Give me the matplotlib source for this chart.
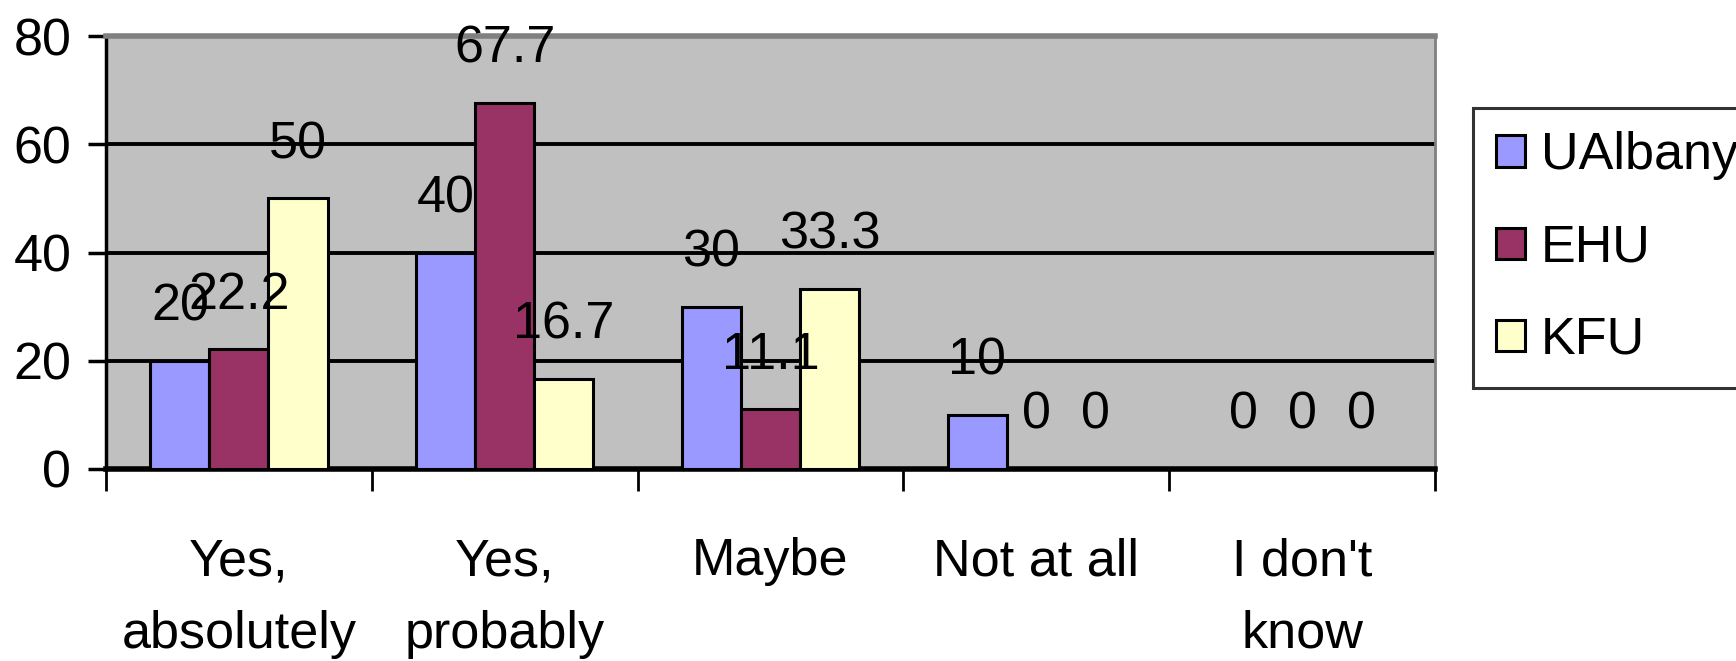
import matplotlib
matplotlib.use("Agg")
import matplotlib.pyplot as plt
import numpy as np

categories = ["Yes,\nabsolutely", "Yes,\nprobably", "Maybe", "Not at all", "I don't\nknow"]
series_names = ["UAlbany", "EHU", "KFU"]
ualbany = [20, 40, 30, 10, 0]
ehu = [22.2, 67.7, 11.1, 0, 0]
kfu = [50, 16.7, 33.3, 0, 0]
label_texts = [["20", "40", "30", "10", "0"],
               ["22.2", "67.7", "11.1", "0", "0"],
               ["50", "16.7", "33.3", "0", "0"]]
yticks = [0, 20, 40, 60, 80]
colors = ["#9999FF", "#993366", "#FFFFCC"]

plt.rcParams['font.family'] = ['Liberation Sans', 'DejaVu Sans']
FS = 37.5

fig = plt.figure(figsize=(17.36, 6.61), dpi=100)
ax = fig.add_axes([106/1736, 1-469/661, (1435-106)/1736, (469-36)/661])
ax.set_facecolor("#C0C0C0")

x = np.arange(len(categories))
w = 1/4.5
data = [ualbany, ehu, kfu]
for i, (vals, name, col) in enumerate(zip(data, series_names, colors)):
    pos = x + (i-1)*w
    ax.bar(pos, vals, width=w, color=col, edgecolor="black", linewidth=2.2,
           label=name, zorder=3)
    for p, v, t in zip(pos, vals, label_texts[i]):
        if t:
            ax.annotate(t, (p, v), xytext=(0, 29), textcoords="offset points",
                        ha="center", va="baseline", fontsize=FS, zorder=5)

ax.set_xlim(-0.5, len(categories)-0.5)
ax.set_ylim(0, 80)
ax.set_yticks(yticks)
ax.set_yticklabels([str(t) for t in yticks], fontsize=FS)
ax.yaxis.grid(True, color="black", linewidth=2.8, zorder=1)
ax.set_axisbelow(True)

ax.set_xticks(np.arange(len(categories)+1)-0.5)
ax.set_xticklabels([])
ax.set_xticks(x, minor=True)
ax.set_xticklabels(categories, minor=True, fontsize=FS, linespacing=1.62, va="top")
ax.tick_params(axis="x", which="major", length=16, width=2, direction="out")
ax.tick_params(axis="x", which="minor", length=0, pad=49)
ax.tick_params(axis="y", length=13, width=2.5, pad=12)

ax.spines["left"].set_linewidth(2.5)
ax.spines["bottom"].set_linewidth(4)
ax.spines["top"].set_color("#808080")
ax.spines["top"].set_linewidth(4)
ax.spines["right"].set_color("#808080")
ax.spines["right"].set_linewidth(2)

leg = fig.legend(loc="upper left", bbox_to_anchor=(1473/1736, 1-108/661),
                 fontsize=FS, frameon=True, fancybox=False, edgecolor="black",
                 handlelength=0.55, handleheight=0.55, handletextpad=0.3,
                 labelspacing=0.83, borderpad=0.45, borderaxespad=0)
leg.get_frame().set_linewidth(2.2)

fig.savefig("out.png", dpi=100)
